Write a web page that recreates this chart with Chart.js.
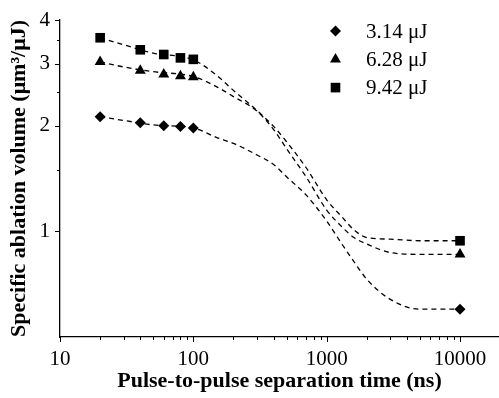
<!DOCTYPE html>
<html>
<head>
<meta charset="utf-8">
<script src="https://cdn.jsdelivr.net/npm/chart.js@4.4.0/dist/chart.umd.min.js"></script>
<style>
  html, body { margin: 0; padding: 0; background: #fff; }
  #wrap { width: 499px; height: 398px; }
</style>
</head>
<body>
<div id="wrap"><canvas id="ablation" width="499" height="398"></canvas></div>
<script>
// measured points
var energyLabels = ['3.14 \u03bcJ', '6.28 \u03bcJ', '9.42 \u03bcJ'];
var markerStyles = ['rectRot', 'triangle', 'rect'];
var timesNs = [20, 40, 60, 80, 100, 10000];
var vol314 = [2.12, 2.04, 2.00, 1.99, 1.97, 0.60];
var vol628 = [3.04, 2.87, 2.80, 2.77, 2.75, 0.86];
var vol942 = [3.56, 3.29, 3.19, 3.12, 3.09, 0.94];

// dashed fit curves
var fitTimes = [20, 30, 50, 100, 150, 200, 300, 400, 500, 700, 1000, 1300, 1600, 2000, 3000, 5000, 10000];
var fit314 = [2.12, 2.07, 2.01, 1.97, 1.85, 1.78, 1.65, 1.55, 1.43, 1.27, 1.07, 0.92, 0.82, 0.73, 0.64, 0.60, 0.60];
var fit628 = [3.04, 2.94, 2.85, 2.76, 2.58, 2.42, 2.20, 1.95, 1.72, 1.43, 1.15, 1.03, 0.96, 0.92, 0.87, 0.86, 0.86];
var fit942 = [3.56, 3.40, 3.22, 3.08, 2.78, 2.52, 2.21, 1.99, 1.80, 1.52, 1.23, 1.10, 1.01, 0.96, 0.95, 0.94, 0.94];

// axis ticks
var xTicks = [10, 20, 30, 40, 50, 60, 70, 80, 90, 100, 200, 300, 400, 500, 600, 700, 800, 900,
              1000, 2000, 3000, 4000, 5000, 6000, 7000, 8000, 9000, 10000];
var xLabels = [10, 100, 1000, 10000];
var yTicks = [1, 1.5, 2, 2.5, 3, 3.5, 4];
var yLabels = [1, 2, 3, 4];

var serif = '"Liberation Serif", "Times New Roman", serif';

function pairs(xs, ys) {
  return xs.map(function(x, i) { return {x: x, y: ys[i]}; });
}

function pointSet(i, values) {
  return {
    label: energyLabels[i],
    data: pairs(timesNs, values),
    showLine: false,
    pointStyle: markerStyles[i],
    pointRadius: [5.5, 6.3, 6.8][i],
    backgroundColor: '#000',
    borderColor: '#000',
    borderWidth: 0,
    order: 1,
    isMarker: true
  };
}

function fitSet(values) {
  return {
    data: pairs(fitTimes, values),
    showLine: true,
    pointRadius: 0,
    borderColor: '#000',
    borderWidth: 1.3,
    borderDash: [5, 4],
    cubicInterpolationMode: 'monotone',
    fill: false,
    order: 2
  };
}

// hand-drawn ticks so the minor ones can be shorter
var tickMarks = {
  id: 'tickMarks',
  afterDraw: function(chart) {
    var ctx = chart.ctx, xs = chart.scales.x, ys = chart.scales.y;
    var a = chart.chartArea;
    ctx.save();
    ctx.strokeStyle = '#000';
    ctx.lineWidth = 1;
    xTicks.forEach(function(v) {
      var px = Math.round(xs.getPixelForValue(v)) + 0.5;
      var len = xLabels.indexOf(v) >= 0 ? 5 : 3;
      ctx.beginPath();
      ctx.moveTo(px, a.bottom);
      ctx.lineTo(px, a.bottom + len);
      ctx.stroke();
    });
    yTicks.forEach(function(v) {
      var py = Math.round(ys.getPixelForValue(v)) + 0.5;
      var len = yLabels.indexOf(v) >= 0 ? 5 : 3;
      ctx.beginPath();
      ctx.moveTo(a.left, py);
      ctx.lineTo(a.left - len, py);
      ctx.stroke();
    });
    ctx.restore();
  }
};

// legend in the upper right of the plot
var cornerLegend = {
  id: 'cornerLegend',
  afterDraw: function(chart) {
    var ctx = chart.ctx;
    var row = 0;
    ctx.save();
    ctx.font = '21px ' + serif;
    ctx.textBaseline = 'middle';
    chart.data.datasets.forEach(function(ds) {
      if (!ds.isMarker) return;
      var y = 31 + row * 28.3;
      ctx.fillStyle = '#000';
      ctx.strokeStyle = '#000';
      Chart.helpers.drawPoint(ctx, {pointStyle: ds.pointStyle, radius: ds.pointRadius, rotation: 0, borderWidth: 0}, 335.5, y);
      ctx.fillText(ds.label, 366, y + 1);
      row++;
    });
    ctx.restore();
  }
};

var config = {
  type: 'scatter',
  data: {
    datasets: [
      pointSet(0, vol314), pointSet(1, vol628), pointSet(2, vol942),
      fitSet(fit314), fitSet(fit628), fitSet(fit942)
    ]
  },
  options: {
    responsive: false,
    animation: false,
    layout: { autoPadding: false, padding: { top: 20, right: 0, left: 0, bottom: 0 } },
    plugins: {
      legend: { display: false },
      tooltip: { enabled: false }
    },
    scales: {
      x: {
        type: 'logarithmic',
        position: 'bottom',
        min: 10,
        max: 19600,
        afterBuildTicks: function(scale) {
          scale.ticks = xLabels.map(function(v) { return {value: v}; });
        },
        afterFit: function(scale) {
          scale.height = 61;
          scale.paddingLeft = 0;
          scale.paddingRight = 0;
        },
        grid: { display: false, drawTicks: false },
        border: { display: true, color: '#000', width: 1.3 },
        ticks: {
          color: '#000',
          padding: 10,
          maxRotation: 0,
          autoSkip: false,
          font: { family: serif, size: 21 },
          callback: function(v) { return String(v); }
        },
        title: {
          display: true,
          text: 'Pulse-to-pulse separation time (ns)',
          color: '#000',
          font: { family: serif, size: 22, weight: 'bold', lineHeight: 1.2 },
          padding: { top: 0, bottom: 3 }
        }
      },
      y: {
        type: 'logarithmic',
        position: 'left',
        min: 0.5,
        max: 4,
        afterBuildTicks: function(scale) {
          scale.ticks = yLabels.map(function(v) { return {value: v}; });
        },
        afterFit: function(scale) {
          scale.width = 60;
          scale.paddingTop = 0;
          scale.paddingBottom = 0;
        },
        grid: { display: false, drawTicks: false },
        border: { display: true, color: '#000', width: 1.3 },
        ticks: {
          color: '#000',
          padding: 10,
          autoSkip: false,
          font: { family: serif, size: 21 },
          callback: function(v) { return String(v); }
        },
        title: {
          display: true,
          text: 'Specific ablation volume (\u03bcm\u00b3/\u03bcJ)',
          color: '#000',
          font: { family: serif, size: 22, weight: 'bold', lineHeight: 1.2 },
          padding: { top: 6, bottom: 0 }
        }
      }
    }
  },
  plugins: [tickMarks, cornerLegend]
};

var ablationChart = new Chart(document.getElementById('ablation'), config);
</script>
</body>
</html>
